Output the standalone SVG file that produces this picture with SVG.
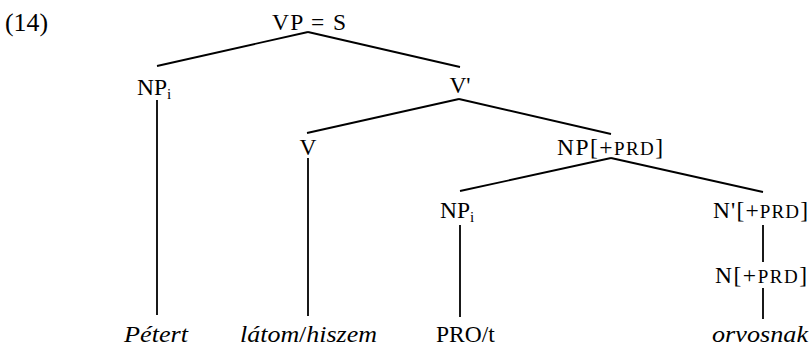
<svg xmlns="http://www.w3.org/2000/svg" width="811" height="346" viewBox="0 0 811 346">
<style>
text{font-family:"Liberation Serif","Times New Roman",serif;font-size:23.5px;fill:#000;text-anchor:start}
.m{text-anchor:middle}
.it{font-style:italic;font-size:24px}
.sc{font-size:19px}
.sub{font-size:15px}
#edges line{stroke:#000;stroke-width:1.8;stroke-linecap:butt}
</style>
<rect width="811" height="346" fill="#fff"/>
<text x="5" y="31" style="font-size:25px" textLength="43" lengthAdjust="spacingAndGlyphs">(14)</text>
<g id="edges">
<line x1="308" y1="32" x2="157" y2="66"/>
<line x1="308" y1="32" x2="460" y2="67"/>
<line x1="157" y1="100" x2="157" y2="315"/>
<line x1="459" y1="99" x2="307" y2="133"/>
<line x1="459" y1="99" x2="611" y2="134"/>
<line x1="308" y1="158" x2="308" y2="316"/>
<line x1="611" y1="158" x2="460" y2="191"/>
<line x1="611" y1="158" x2="763" y2="192"/>
<line x1="460" y1="225" x2="460" y2="317"/>
<line x1="763" y1="225" x2="763" y2="262"/>
<line x1="763" y1="288" x2="763" y2="319"/>
</g>
<g id="vp"><text x="272" y="30" textLength="74" lengthAdjust="spacing">VP = S</text></g>
<g id="np1"><text x="137" y="95">NP<tspan class="sub" dy="4">i</tspan></text></g>
<g id="vbar"><text class="m" x="460" y="93">V'</text></g>
<g id="v"><text class="m" x="308" y="155">V</text></g>
<g id="npprd"><text x="557" y="155" textLength="106" lengthAdjust="spacing">NP[+<tspan class="sc">PRD</tspan>]</text></g>
<g id="np2"><text x="440" y="218">NP<tspan class="sub" dy="4">i</tspan></text></g>
<g id="nbar"><text x="713" y="218" textLength="95" lengthAdjust="spacing">N'[+<tspan class="sc">PRD</tspan>]</text></g>
<g id="n"><text x="715" y="283" textLength="92" lengthAdjust="spacing">N[+<tspan class="sc">PRD</tspan>]</text></g>
<g id="w1"><text class="it" x="124" y="342" textLength="64" lengthAdjust="spacingAndGlyphs">Pétert</text></g>
<g id="w2"><text x="240" y="342" style="font-size:24px" textLength="137" lengthAdjust="spacingAndGlyphs"><tspan class="it">látom</tspan>/<tspan class="it">hiszem</tspan></text></g>
<g id="w3"><text x="436" y="342">PRO/t</text></g>
<g id="w4"><text class="it" x="712" y="342" textLength="96" lengthAdjust="spacingAndGlyphs">orvosnak</text></g>
</svg>
